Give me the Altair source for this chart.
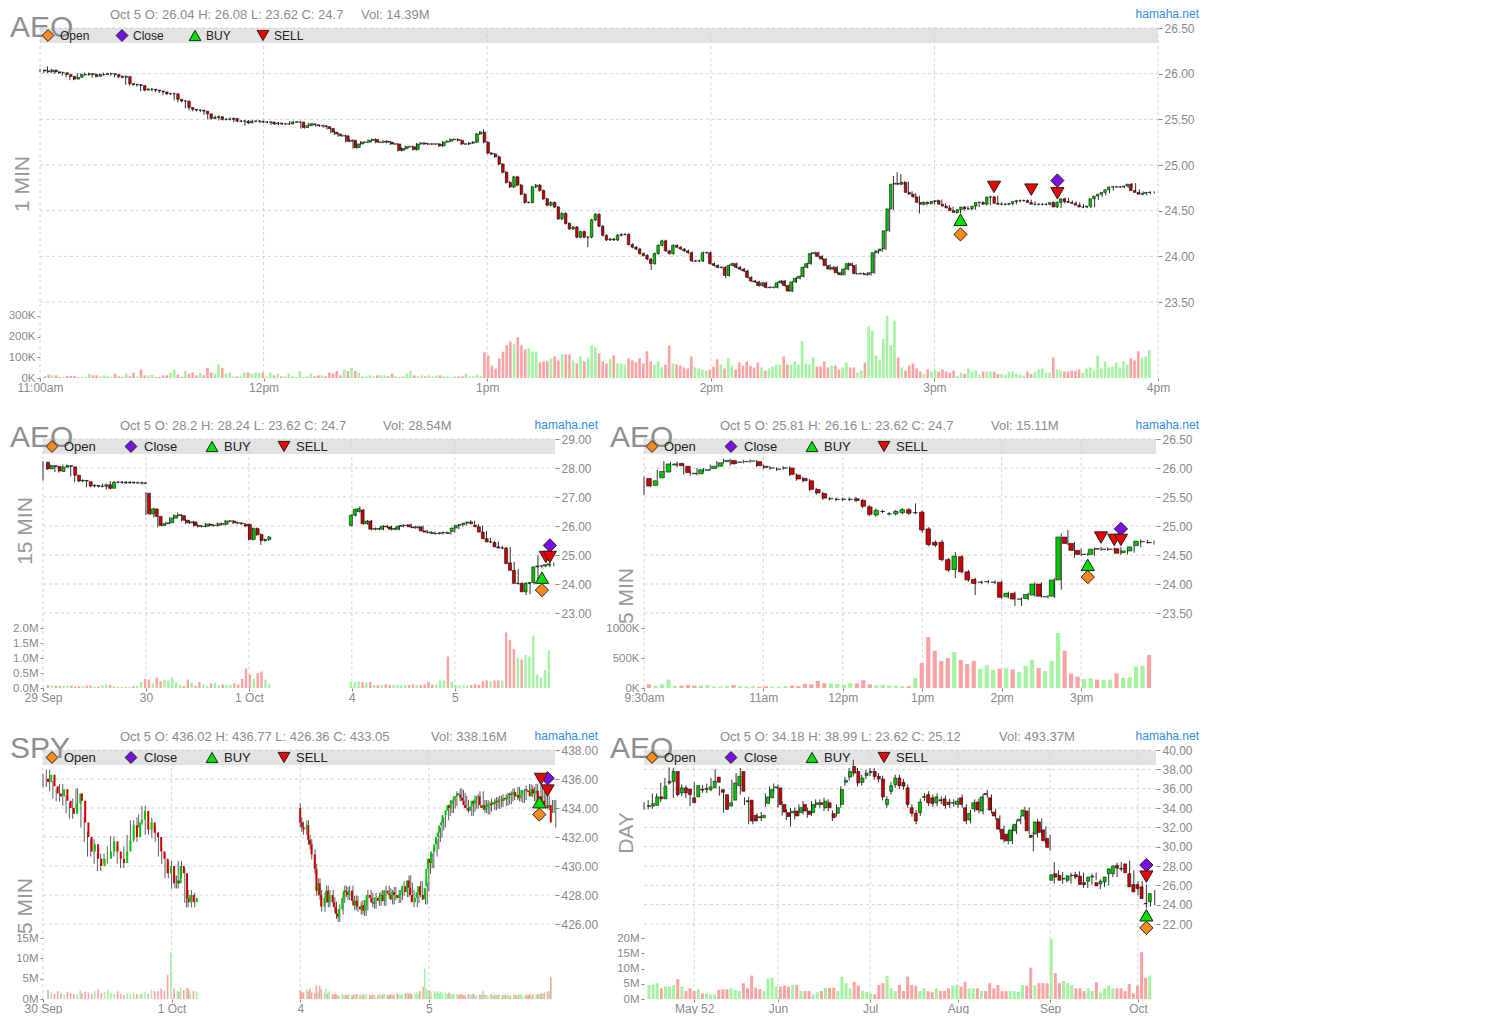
import altair as alt
import pandas as pd

FONT = "Liberation Sans"
AX = "#8a8a8a"
GRID = "#d4d4d4"
UP, DN = "#00c800", "#cc0000"
VUP, VDN = "#a4f3a0", "#fca2a2"
ORANGE, PURPLE, BUYC, SELLC = "#ff8a1c", "#7a10e0", "#00e000", "#f00000"
ONE = pd.DataFrame({"a": [0]})

# ================= P1 : AEO 1 MIN (Oct 5, 11:00-16:00) =================
p1_first_open = 26.04
p1_close = [
 26.03,26.02,26.04,26.02,26.01,26.01,25.99,25.97,25.94,25.96,
 25.99,25.99,26.00,25.99,25.97,25.99,25.99,26.00,26.00,25.99,
 25.97,25.96,25.97,25.89,25.88,25.88,25.87,25.82,25.83,25.83,
 25.82,25.81,25.80,25.78,25.78,25.78,25.72,25.70,25.70,25.63,
 25.61,25.60,25.60,25.59,25.56,25.51,25.52,25.53,25.50,25.50,
 25.50,25.51,25.48,25.48,25.48,25.46,25.48,25.48,25.48,25.47,
 25.47,25.47,25.45,25.46,25.45,25.45,25.45,25.47,25.47,25.47,
 25.41,25.43,25.45,25.44,25.43,25.43,25.42,25.40,25.36,25.34,
 25.32,25.32,25.26,25.27,25.19,25.23,25.25,25.25,25.27,25.28,
 25.25,25.25,25.26,25.25,25.23,25.23,25.16,25.18,25.20,25.20,
 25.17,25.23,25.24,25.23,25.23,25.23,25.23,25.21,25.25,25.26,
 25.28,25.28,25.27,25.23,25.23,25.24,25.25,25.34,25.36,25.25,
 25.13,25.12,25.09,25.01,24.92,24.81,24.76,24.87,24.78,24.68,
 24.59,24.59,24.76,24.78,24.72,24.63,24.56,24.59,24.54,24.41,
 24.47,24.36,24.30,24.32,24.21,24.27,24.21,24.21,24.40,24.46,
 24.33,24.23,24.18,24.19,24.18,
 24.23,24.24,24.24,24.13,24.10,24.08,24.03,24.01,23.97,23.92,
 24.03,24.12,24.17,24.06,24.03,24.12,24.10,24.08,24.06,24.04,
 23.95,23.95,23.95,24.04,24.04,23.92,23.90,23.88,23.88,23.79,
 23.90,23.92,23.88,23.86,23.84,23.77,23.73,23.72,23.68,23.71,
 23.66,23.66,23.66,23.71,23.73,23.68,23.62,23.72,23.76,23.78,
 23.88,23.92,24.03,24.04,24.00,23.97,23.90,23.86,23.88,23.82,
 23.80,23.86,23.92,23.90,23.81,23.81,23.81,23.80,23.82,24.04,
 24.06,24.08,24.28,24.52,24.79,24.80,24.79,24.81,24.70,24.68,
 24.65,24.59,24.57,24.59,24.58,24.60,24.61,24.57,24.55,24.53,
 24.50,24.48,24.51,24.54,24.52,24.52,24.55,24.59,24.59,24.57,
 24.65,24.65,24.58,24.57,24.57,24.57,24.58,24.60,24.61,24.61,
 24.61,24.59,24.57,24.57,24.57,24.57,24.57,24.59,24.54,24.59,
 24.63,24.60,24.59,24.58,24.56,24.54,24.54,24.55,24.63,24.66,
 24.68,24.70,24.73,24.76,24.76,24.76,24.76,24.77,24.79,24.72,
 24.70,24.68,24.69,24.70,24.70]
p1_hi = {2: 26.08, 119: 25.39, 229: 24.88, 230: 24.92, 231: 24.90, 233: 24.82}
p1_lo = {55: 25.43, 147: 24.10, 164: 23.85, 184: 23.76, 201: 23.61, 236: 24.47}
p1_vol_k = [
 8,16,13,13,5,5,10,10,10,5, 5,5,21,13,13,8,13,8,5,21, 8,5,21,8,26,8,41,13,13,16,
 5,5,13,13,26,41,16,5,33,21, 26,13,26,13,49,26,21,65,49,21, 26,8,8,8,26,26,21,26,26,26,
 8,26,13,21,8,8,21,8,5,33, 5,8,21,8,13,13,8,26,21,33, 13,41,33,49,33,26,8,8,13,8,
 13,13,13,8,21,8,5,8,21,33, 13,8,13,8,13,8,13,13,8,8, 5,8,8,8,21,8,8,16,10, 124,
 109,60,45,94,127,158,176,163,197,158, 138,143,128,128,75,80,80,94,104,85,
 114,114,114,85,70,104,80,99,158,
 150,119,80,70,90,109,70,70,65,95, 85,75,95,70,129,80,65,80,51,65,
 158,70,65,60,51,46,104,51, 46,41,36,41,55,90,65,46,95,60,
 41,75,60,80,60,51,75,51,36,46, 55,65,65,104,65,65,80,65,178,70,
 65,99,55,55,80,51,60,60,41,51, 75,51,51,26,36,75,248,228,109,85,
 189,302,160,277,99,51,36,60,70,46, 31,20,41,31,41,31,41,31,26,36,
 11,26,20,46,31,36,16,31,31,31, 31,20,20,16,31,31,20,16,11,31,
 20,31,41,46,26,26,99,41,36,31, 31,36,36,41,26,46,51,36,109,46,
 80,51,55,75,51,80,65,95,85,129, 99,104,135]
p1_marks = [(247, 24.24, "open"), (247, 24.40, "buy"), (256, 24.76, "sell"),
            (266, 24.73, "sell"), (273, 24.69, "sell"), (273, 24.83, "close")]

# ================= P2 : AEO 15 MIN (Sep 29 - Oct 5) =================
p2_sessions = [0, 26, 52, 78, 104]          # first 15-min slot of each session
p2_open = [
 [28.20,27.97,28.08,28.05,27.88,28.03,28.08,28.04,27.75,27.55,27.57,27.53,27.38,27.40,27.37,27.37,27.42,27.30,27.51,27.51,27.51,27.49,27.51,27.49,27.49,27.49],
 [27.13,26.42,26.59,26.33,26.02,26.08,26.11,26.27,26.36,26.36,26.20,26.11,26.14,26.02,25.99,25.99,26.06,26.02,26.02,26.08,26.06,26.17,26.17,26.11,26.10,26.06],
 [26.05,25.54,25.91,25.70,25.50,25.53],
 [26.02,26.37,26.50,26.55,26.08,26.17,25.89,25.91,25.89,25.99,25.97,25.89,25.89,25.99,26.02,26.04,25.97,25.94,25.97,25.83,25.79,25.77,25.74,25.74,25.77,25.77],
 [25.81,25.93,26.02,26.05,26.10,26.14,26.03,25.97,25.79,25.56,25.45,25.43,25.28,25.24,25.24,24.73,24.47,24.02,24.02,23.73,24.02,24.05,24.59,24.62,24.62,24.65]]
p2_close = [
 [27.97,28.08,28.05,27.90,28.03,28.08,28.06,27.75,27.55,27.57,27.55,27.38,27.40,27.37,27.37,27.42,27.30,27.51,27.51,27.51,27.49,27.51,27.49,27.49,27.49,27.47],
 [26.42,26.59,26.33,26.02,26.08,26.11,26.27,26.36,26.39,26.20,26.11,26.14,26.02,25.99,25.99,26.06,26.02,26.02,26.08,26.06,26.17,26.17,26.11,26.10,26.08,26.00],
 [25.54,25.91,25.70,25.50,25.53,25.62],
 [26.37,26.57,26.60,26.08,26.17,25.89,25.91,25.89,25.99,25.97,25.89,25.91,25.99,26.02,26.02,25.97,25.94,25.97,25.83,25.79,25.77,25.74,25.74,25.77,25.77,25.74],
 [25.93,26.02,26.05,26.10,26.14,26.08,25.97,25.79,25.56,25.45,25.45,25.28,25.24,25.24,24.70,24.47,24.02,24.02,23.73,24.02,24.05,24.59,24.62,24.62,24.67,24.70]]
p2_vol_m = [
 [0.10,0.08,0.08,0.07,0.08,0.08,0.08,0.05,0.06,0.06,0.08,0.08,0.05,0.05,0.10,0.12,0.10,0.06,0.04,0.04,0.03,0.04,0.06,0.08,0.20,0.30],
 [0.28,0.15,0.35,0.22,0.28,0.25,0.35,0.18,0.10,0.07,0.28,0.18,0.08,0.20,0.12,0.08,0.15,0.18,0.10,0.12,0.10,0.10,0.15,0.12,0.30,0.65],
 [0.45,0.30,0.50,0.55,0.28,0.12],
 [0.20,0.20,0.22,0.20,0.18,0.20,0.10,0.10,0.10,0.12,0.10,0.10,0.10,0.10,0.10,0.10,0.12,0.10,0.10,0.12,0.20,0.12,0.12,0.25,0.25,1.05],
 [0.20,0.10,0.08,0.08,0.08,0.10,0.12,0.10,0.22,0.25,0.22,0.25,0.25,0.25,1.85,1.60,1.30,1.00,0.95,1.10,1.05,1.75,0.45,0.35,0.60,1.25]]
p2_hi = {0: 28.24, 5: 28.12, 34: 26.47, 80: 26.67, 108: 26.20, 125: 24.99}   # keyed by 15-min slot
p2_lo = {0: 27.57, 29: 25.95, 55: 25.35, 121: 23.79, 122: 23.62, 123: 23.65}
p2_marks = [(126, 23.79, "open"), (126, 24.22, "buy"), (127, 24.93, "sell"),
            (128, 24.93, "sell"), (128, 25.33, "close")]

# ================= P3 : AEO 5 MIN (Oct 5) =================
p3_open = [25.82,25.70,25.83,25.93,26.05,26.08,26.03,25.91,25.90,25.96,25.99,26.03,26.11,26.13,26.10,26.11,26.12,26.11,26.03,26.00,
           25.98,26.00,26.00,25.88,25.82,25.78,25.63,25.56,25.47,25.46,25.46,25.46,25.47,25.44,25.33,25.19,25.25,25.21,25.21,25.23,
           25.28,25.23,25.24,24.95,24.72,24.72,24.42,24.25,24.47,24.21,24.08,24.03,24.04,24.03,24.03,23.78,23.84,23.74,23.75,23.81,
           24.00,23.78,23.79,24.07,24.81,24.70,24.58,24.51,24.51,24.61,24.60,24.60,24.61,24.54,24.57,24.66,24.73,24.72]
p3_close = [25.69,25.78,25.94,26.07,26.07,26.04,25.92,25.90,25.97,25.97,26.03,26.09,26.13,26.07,26.10,26.11,26.12,26.04,26.01,26.00,
            25.98,26.00,25.89,25.81,25.78,25.63,25.57,25.48,25.47,25.46,25.46,25.46,25.44,25.34,25.20,25.27,25.25,25.21,25.25,25.28,
            25.22,25.23,24.93,24.68,24.67,24.42,24.24,24.48,24.21,24.07,24.01,24.03,24.04,24.03,23.77,23.84,23.74,23.74,23.82,24.00,
            23.79,23.78,24.07,24.81,24.70,24.58,24.51,24.51,24.60,24.60,24.60,24.60,24.53,24.57,24.64,24.74,24.73,24.71]
p3_vol_k = [60,35,60,140,35,40,50,40,40,50,25,25,35,50,30,25,30,20,30,20,
            20,30,40,30,70,60,120,80,75,65,55,80,75,130,60,45,50,40,40,30,
            30,165,420,850,620,450,500,600,470,400,450,320,380,300,320,330,310,270,370,470,
            330,280,450,920,620,240,190,150,160,140,130,140,240,170,180,360,370,550]
p3_hi = {0: 25.85, 3: 26.12, 12: 26.16, 41: 25.39, 45: 24.76, 47: 24.55, 63: 24.87, 64: 24.93}
p3_lo = {0: 25.54, 42: 24.88, 47: 24.10, 50: 23.81, 54: 23.74, 56: 23.62, 57: 23.62, 63: 23.90, 65: 24.45}
p3_marks = [(67, 24.12, "open"), (67, 24.33, "buy"), (69, 24.80, "sell"),
            (71, 24.76, "sell"), (72, 24.76, "sell"), (72, 24.95, "close")]

# ================= P4 : SPY 5 MIN (Sep 30 - Oct 5) =================
p4_sessions = [0, 78, 156, 234]
p4_close = [
 [435.8,436.3,435.5,435.0,434.8,435.3,434.5,434.0,433.6,434.3,435.0,434.5,433.0,432.0,431.0,431.5,430.5,430.0,430.5,430.5,
  431.0,431.7,431.0,430.5,430.2,431.0,431.8,432.8,432.0,433.0,433.2,433.8,432.5,433.0,432.3,432.0,431.0,430.5,429.5,430.0],
 [428.8,429.0,428.8,430.0,429.5,427.8,427.5,428.0,427.5,427.8],
 [433.0,432.7,432.5,432.8,431.8,431.5,430.8,429.8,428.3,428.8,428.0,427.2,427.8,428.3,427.5,428.0,427.5,427.2,426.7,426.5,
  427.0,427.8,428.3,428.2,428.0,428.3,427.6,427.3,427.6,427.2,427.0,427.3,426.9,427.3,428.0,427.8,427.5,427.4,427.8,427.6,
  427.9,428.0,427.6,428.3,428.1,428.0,427.7,428.2,428.0,427.8,428.0,428.3,428.6,428.2,429.0,428.5,428.0,427.5,427.8,428.2,
  428.6,428.0,427.7,428.5],
 [429.8,430.5,430.2,431.0,431.5,432.0,432.3,432.8,433.0,433.5,433.8,434.2,434.0,434.3,434.5,434.8,435.0,434.9,434.7,434.5,
  434.2,434.0,433.8,434.1,434.5,434.3,434.6,434.8,434.2,434.0,434.2,433.9,434.1,434.3,434.2,434.4,434.3,434.5,434.4,434.6,
  434.5,434.7,434.6,434.8,435.0,434.9,435.1,434.8,434.9,434.7,434.9,435.2,435.3,435.2,435.1,434.8,435.3,435.0,435.2,434.5,
  434.8,434.3,434.5,434.2,434.0,434.2,433.0]]
p4_vol_m = [
 [2.2,1.6,1.3,2.0,1.4,1.1,1.8,1.5,1.2,1.0, 2.2,1.4,1.8,1.6,1.2,1.9,2.4,1.5,1.8,2.2,
  1.5,1.3,1.9,1.2,1.0,1.4,1.1,1.6,1.3,1.2, 1.5,1.8,1.4,2.2,1.9,2.0,2.6,2.0,6.0,11.5],
 [2.6,2.0,1.8,2.8,2.2,2.8,2.4,1.5,2.0,1.8],
 [2.2,1.8,1.6,2.4,1.9,2.6,1.6,1.4,3.3,1.8, 3.2,2.4,1.6,2.6,1.4,1.9,1.2,1.1,1.3,0.9,
  1.0,1.2,0.9,1.1,1.0,1.3,0.9,1.0,1.1,1.2, 0.9,1.0,1.1,0.9,1.2,1.0,0.9,1.1,1.0,0.9,
  1.2,1.0,1.1,1.3,1.0,0.9,1.2,1.1,1.0,1.3, 1.1,1.0,1.2,1.4,1.6,1.2,1.5,1.1,1.3,1.8,
  1.4,2.0,3.0,7.5],
 [2.6,2.0,2.2,1.6,1.9,1.6,2.0,1.4,1.8,1.3, 1.5,1.2,1.6,1.4,1.1,1.3,1.2,1.0,1.2,1.1,
  1.0,0.9,1.2,1.0,1.1,1.3,1.0,0.9,1.1,1.0, 2.0,1.1,1.0,0.9,1.2,1.0,0.9,1.1,1.0,1.2,
  0.9,1.0,1.1,0.9,1.0,0.8,1.0,1.1,0.9,1.0, 1.2,1.0,0.9,1.1,1.0,1.2,0.9,1.1,1.0,1.3,
  1.2,1.4,1.3,1.6,1.8,2.0,5.5]]
p4_first_open = [436.02, 430.0, 434.0, 428.6]
p4_span = [78, 15, 78, 78]                  # 5-min slots covered by each session's readings
p4_marks = [(301, 433.55, "open"), (301, 434.40, "buy"), (302, 436.0, "sell"),
            (306, 435.2, "sell"), (306, 436.05, "close")]

# ================= P5 : AEO DAY =================
p5_open = [34.15,34.20,34.27,35.15,34.95,36.59,36.76,37.78,35.56,36.08,35.97,35.05,35.15,35.95,35.92,35.90,36.08,37.20,35.90,35.39,
           34.20,34.81,36.31,37.78,34.75,34.81,33.24,33.10,33.00,34.47,35.05,36.08,36.08,34.37,33.52,33.50,33.69,33.52,34.37,33.69,
           33.52,34.37,34.54,34.03,34.54,33.41,33.45,34.37,36.66,37.20,38.29,37.78,36.66,37.34,37.68,37.78,37.27,37.00,34.37,35.73,
           36.42,37.10,36.66,36.08,34.03,33.45,33.52,35.10,35.39,35.05,34.54,34.85,34.95,34.61,34.50,34.37,35.05,34.03,32.76,33.92,
           34.61,33.69,35.49,35.05,33.58,32.90,31.81,31.30,30.61,31.64,32.66,33.17,33.69,31.19,31.30,32.56,31.74,30.85,26.52,27.20,
           27.03,26.65,26.52,27.00,27.10,26.96,26.28,26.42,26.86,26.28,26.18,26.35,27.20,27.20,28.05,27.75,28.22,27.20,26.08,26.08,
           25.84,24.13,24.30]
p5_close = [34.25,34.45,35.15,34.95,36.25,36.76,37.78,35.39,36.08,35.56,35.39,34.54,36.31,35.85,36.02,36.18,36.76,36.66,35.63,33.86,
            34.54,36.59,37.27,35.73,34.65,32.66,32.66,33.00,33.24,35.15,35.90,36.18,34.37,33.58,33.11,33.65,33.17,34.03,33.69,33.34,
            34.37,34.54,34.37,34.71,34.03,33.00,34.03,35.90,36.86,37.78,37.61,36.59,37.10,37.61,37.78,37.27,37.00,35.15,34.88,36.31,
            37.10,36.31,36.25,34.37,33.45,32.66,34.61,35.20,34.54,34.47,35.15,34.75,34.27,34.37,34.55,34.71,34.37,32.66,33.45,34.54,
            33.79,35.15,35.39,33.79,33.17,31.81,30.78,30.61,31.74,32.32,32.83,33.79,31.64,30.96,32.56,31.47,30.61,29.93,27.10,26.86,
            26.52,26.72,26.96,27.05,26.86,26.08,26.08,26.86,26.96,25.94,26.42,26.86,27.71,27.99,27.78,27.68,27.30,25.84,25.32,25.67,
            24.64,24.10,25.15]
p5_vol_m = [4.6,4.8,5.2,3.5,4.1,4.1,4.6,6.5,4.1,2.6, 3.5,2.6,3.2,1.9,1.9,1.5,1.5,3.0,3.2,3.2,
            3.5,3.0,2.6,5.2,3.5,7.7,3.7,3.3,2.6,6.8, 7.0,4.1,4.1,4.4,4.1,4.6,4.6,2.6,2.6,2.6,
            1.5,2.2,2.6,3.7,3.7,3.7,2.6,7.4,5.2,3.5, 5.7,4.4,2.6,2.4,1.9,1.5,4.6,5.2,7.6,3.5,
            2.6,4.6,2.6,7.4,4.6,4.3,2.6,3.5,2.6,2.2, 3.5,2.6,2.6,3.5,4.4,4.6,4.1,5.7,3.5,3.5,
            3.5,2.6,2.6,5.2,3.5,4.6,2.6,2.6,2.6,2.6, 2.4,4.6,4.4,10.3,4.6,5.2,5.2,5.2,19.8,8.5,
            5.2,5.9,5.2,4.6,3.5,3.5,2.6,3.5,2.6,5.5, 2.2,3.5,4.4,3.5,3.5,3.5,2.6,4.9,1.9,4.4,
            15.4,7.0,7.7]
p5_hi = {6: 38.20, 17: 38.00, 50: 38.99, 98: 28.40, 120: 26.10}
p5_lo = {35: 32.08, 93: 29.50, 120: 23.62, 121: 23.80}
p5_marks = [(120, 21.60, "open"), (120, 22.90, "buy"), (120, 26.90, "sell"), (120, 28.10, "close")]


# ---------------------------------------------------------------------------
def frame(idx, o, c, v, wick, hi_over, lo_over):
    rows = []
    for i, a, b, vv in zip(idx, o, c, v):
        h = hi_over.get(i, max(a, b) + wick)
        l = lo_over.get(i, min(a, b) - wick)
        rows.append(dict(i=i, o=a, c=b, h=h, l=l, v=vv, z=0))
    return pd.DataFrame(rows)


def label_expr(vals, labs):
    e = "''"
    for v, l in reversed(list(zip(vals, labs))):
        e = f"datum.value == {v} ? '{l}' : ({e})"
    return e


MARK_STYLE = {"open": ("diamond", ORANGE), "close": ("diamond", PURPLE),
              "buy": ("triangle-up", BUYC), "sell": ("triangle-down", SELLC)}

TOTAL_W = 1118
TOTAL_H = 971


def panel(p, x0, y0, W, PH, gap, VH):
    H = PH + gap + VH
    x1 = x0 + W
    yb = y0 + H
    sx = alt.Scale(domain=p["xdom"], range=[x0, x1], nice=False, zero=False)
    sy = alt.Scale(domain=p["pdom"], range=[y0 + PH, y0], nice=False, zero=False)
    sv = alt.Scale(domain=p["vdom"], range=[yb, yb - VH], nice=False, zero=False)
    df = p["df"]
    L = []
    L.append(alt.Chart(ONE).mark_rect(color="#e3e3e3").encode(
        x=alt.value(x0), x2=alt.value(x1), y=alt.value(y0), y2=alt.value(y0 + 15)))
    paxis = alt.Axis(orient="right", offset=x1 - TOTAL_W, values=p["pticks"], format=".2f",
                     domain=False, grid=False, tickSize=4, tickColor=AX, labelColor=AX,
                     labelFont=FONT, labelFontSize=12, labelPadding=2, labelOverlap=False, title=None)
    L.append(alt.Chart(pd.DataFrame({"p": p["pticks"]})).mark_rule(
        color=GRID, strokeDash=[3, 3], strokeWidth=1).encode(
        y=alt.Y("p:Q", scale=sy, axis=paxis), x=alt.value(x0), x2=alt.value(x1)))
    xaxis = alt.Axis(orient="bottom", offset=yb - TOTAL_H, values=p["xticks"],
                     labelExpr=label_expr(p["xticks"], p["xlabels"]),
                     domain=False, grid=False, tickSize=3, tickColor=AX, labelColor=AX,
                     labelFont=FONT, labelFontSize=12, labelPadding=1, labelFlush=False,
                     labelOverlap=False, title=None)
    L.append(alt.Chart(pd.DataFrame({"t": p["xticks"]})).mark_rule(
        color=GRID, strokeDash=[3, 3], strokeWidth=1).encode(
        x=alt.X("t:Q", scale=sx, axis=xaxis), y=alt.value(y0), y2=alt.value(yb)))
    L.append(alt.Chart(ONE).mark_text(text=p["ticker"], font=FONT, fontSize=30, color="#8f8f8f",
                                      align="left", baseline="alphabetic").encode(
        x=alt.value(x0 + p["tick_dx"]), y=alt.value(y0 + p["tick_y"])))
    L.append(alt.Chart(ONE).mark_text(text=p["period"], font=FONT, fontSize=21, color="#9a9a9a",
                                      angle=270, align="center", baseline="middle").encode(
        x=alt.value(x0 - 17), y=alt.value(y0 + p["period_y"])))
    vaxis = alt.Axis(orient="left", offset=-x0, values=p["vticks"], labelExpr=p["vexpr"],
                     domain=False, grid=False, tickSize=3, tickColor=AX, labelColor=AX,
                     labelFont=FONT, labelFontSize=11.5, labelPadding=2, labelOverlap=False, title=None)
    L.append(alt.Chart(df).mark_bar(size=p["vw"]).encode(
        x=alt.X("i:Q", scale=sx, axis=None),
        y=alt.Y("v:Q", scale=sv, axis=vaxis), y2="z:Q",
        color=alt.condition("datum.c >= datum.o", alt.value(VUP), alt.value(VDN))))
    L.append(alt.Chart(df).mark_rule(color="#333333", strokeWidth=p.get("wickw", 1)).encode(
        x=alt.X("i:Q", scale=sx, axis=None), y=alt.Y("l:Q", scale=sy, axis=None), y2="h:Q"))
    body_kw = dict(size=p["bw"])
    if p.get("outline", True):
        body_kw.update(stroke="#111111", strokeWidth=0.6)
    L.append(alt.Chart(df).mark_bar(**body_kw).encode(
        x=alt.X("i:Q", scale=sx, axis=None), y=alt.Y("o:Q", scale=sy, axis=None), y2="c:Q",
        color=alt.condition("datum.c >= datum.o", alt.value(UP), alt.value(DN))))
    for kind in ["open", "close", "buy", "sell"]:
        pts = [(i, pr) for i, pr, k in p["marks"] if k == kind]
        if not pts:
            continue
        shape, col = MARK_STYLE[kind]
        mdf = pd.DataFrame({"i": [a for a, b in pts], "pr": [b for a, b in pts]})
        L.append(alt.Chart(mdf).mark_point(shape=shape, filled=True, color=col, stroke="#222222",
                                           strokeWidth=1, size=175, opacity=1).encode(
            x=alt.X("i:Q", scale=sx, axis=None), y=alt.Y("pr:Q", scale=sy, axis=None)))
    names = ["Open", "Close", "BUY", "SELL"]
    for k, kind in enumerate(["open", "close", "buy", "sell"]):
        shape, col = MARK_STYLE[kind]
        L.append(alt.Chart(ONE).mark_point(shape=shape, filled=True, color=col, stroke="#222222",
                                           strokeWidth=1, size=140, opacity=1).encode(
            x=alt.value(x0 + p["leg_sym"][k]), y=alt.value(y0 + 7.5)))
        L.append(alt.Chart(ONE).mark_text(text=names[k], font=FONT, fontSize=p["leg_fs"], color="#222222",
                                          align="left", baseline="middle").encode(
            x=alt.value(x0 + p["leg_txt"][k]), y=alt.value(y0 + 8)))
    L.append(alt.Chart(ONE).mark_text(text=p["header"], font=FONT, fontSize=13, color="#8c8c8c",
                                      align="left", baseline="middle").encode(
        x=alt.value(x0 + p["hdr_x"][0]), y=alt.value(y0 - 13)))
    L.append(alt.Chart(ONE).mark_text(text=p["volhdr"], font=FONT, fontSize=13, color="#8c8c8c",
                                      align="left", baseline="middle").encode(
        x=alt.value(x0 + p["hdr_x"][1]), y=alt.value(y0 - 13)))
    L.append(alt.Chart(ONE).mark_text(text="hamaha.net", font=FONT, fontSize=12, color="#2b8ee6",
                                      align="right", baseline="middle").encode(
        x=alt.value(x1 + p["ham_dx"]), y=alt.value(y0 - 14)))
    return L


p1_open = [p1_first_open] + p1_close[:-1]
P1 = dict(df=frame(list(range(len(p1_close))), p1_open, p1_close, p1_vol_k, 0.012, p1_hi, p1_lo),
          xdom=[0, 300], pdom=[23.5, 26.5], pticks=[23.5, 24.0, 24.5, 25.0, 25.5, 26.0, 26.5],
          vdom=[0, 338], vticks=[0, 100, 200, 300], vexpr="datum.value + 'K'",
          xticks=[0, 60, 120, 180, 240, 300], xlabels=["11:00am", "12pm", "1pm", "2pm", "3pm", "4pm"],
          bw=2.5, vw=2.6, ticker="AEO", tick_dx=-30, tick_y=9, period="1 MIN", period_y=156,
          header="Oct 5 O: 26.04 H: 26.08 L: 23.62 C: 24.7", volhdr="Vol: 14.39M", hdr_x=(70, 321),
          ham_dx=41, leg_sym=[8, 82, 155, 223], leg_txt=[20, 93, 166, 234], leg_fs=12, marks=p1_marks)

i2, o2, c2, v2 = [], [], [], []
for s, oo, cc, vv in zip(p2_sessions, p2_open, p2_close, p2_vol_m):
    i2 += [s + k for k in range(len(cc))]
    o2 += oo; c2 += cc; v2 += vv
P2 = dict(df=frame(i2, o2, c2, v2, 0.04, p2_hi, p2_lo),
          xdom=[0, 129.3], pdom=[23, 29], pticks=[23, 24, 25, 26, 27, 28, 29],
          vdom=[0, 2.3], vticks=[0, 0.5, 1.0, 1.5, 2.0], vexpr="format(datum.value, '.1f') + 'M'",
          xticks=[0, 26, 52, 78, 104], xlabels=["29 Sep", "30", "1 Oct", "4", "5"],
          bw=3, vw=2.4, ticker="AEO", tick_dx=-33, tick_y=8, period="15 MIN", period_y=92,
          header="Oct 5 O: 28.2 H: 28.24 L: 23.62 C: 24.7", volhdr="Vol: 28.54M", hdr_x=(77, 340),
          ham_dx=43, leg_sym=[9, 88, 169, 241], leg_txt=[21, 101, 181, 253], leg_fs=13, marks=p2_marks)

P3 = dict(df=frame(list(range(len(p3_close))), p3_open, p3_close, p3_vol_k, 0.03, p3_hi, p3_lo),
          xdom=[0, 77.3], pdom=[23.5, 26.5], pticks=[23.5, 24.0, 24.5, 25.0, 25.5, 26.0, 26.5],
          vdom=[0, 1150], vticks=[0, 500, 1000], vexpr="datum.value + 'K'",
          xticks=[0, 18, 30, 42, 54, 66], xlabels=["9:30am", "11am", "12pm", "1pm", "2pm", "3pm"],
          bw=4.6, vw=4.2, ticker="AEO", tick_dx=-34, tick_y=8, period="5 MIN", period_y=157,
          header="Oct 5 O: 25.81 H: 26.16 L: 23.62 C: 24.7", volhdr="Vol: 15.11M", hdr_x=(76, 347),
          ham_dx=43, leg_sym=[8, 87, 168, 240], leg_txt=[20, 100, 180, 252], leg_fs=13, marks=p3_marks)

i4, o4, c4, v4 = [], [], [], []
for s, span, first, cc, vv in zip(p4_sessions, p4_span, p4_first_open, p4_close, p4_vol_m):
    n = len(cc)
    for k in range(n):
        i4.append(s + round(k * span / n))
        o4.append(first if k == 0 else cc[k - 1])
        c4.append(cc[k])
        v4.append(vv[k])
P4 = dict(df=frame(i4, o4, c4, v4, 0.35, {}, {}),
          xdom=[0, 310.5], pdom=[426, 438], pticks=[426, 428, 430, 432, 434, 436, 438],
          vdom=[0, 17], vticks=[0, 5, 10, 15], vexpr="datum.value + 'M'",
          xticks=[0, 78, 156, 234], xlabels=["30 Sep", "1 Oct", "4", "5"],
          bw=2.0, vw=1.6, outline=False, wickw=0.8, ticker="SPY", tick_dx=-33, tick_y=8, period="5 MIN", period_y=156,
          header="Oct 5 O: 436.02 H: 436.77 L: 426.36 C: 433.05", volhdr="Vol: 338.16M", hdr_x=(77, 388),
          ham_dx=43, leg_sym=[9, 88, 169, 241], leg_txt=[21, 101, 181, 253], leg_fs=13, marks=p4_marks)

P5 = dict(df=frame(list(range(len(p5_close))), p5_open, p5_close, p5_vol_m, 0.35, p5_hi, p5_lo),
          xdom=[0, 122.3], pdom=[22, 40], pticks=[22, 24, 26, 28, 30, 32, 34, 36, 38, 40],
          vdom=[0, 22.7], vticks=[0, 5, 10, 15, 20], vexpr="datum.value + 'M'",
          xticks=[12, 32, 54, 75, 97, 118], xlabels=["May 52", "Jun", "Jul", "Aug", "Sep", "Oct"],
          bw=3, vw=3, ticker="AEO", tick_dx=-34, tick_y=8, period="DAY", period_y=83,
          header="Oct 5 O: 34.18 H: 38.99 L: 23.62 C: 25.12", volhdr="Vol: 493.37M", hdr_x=(76, 355),
          ham_dx=43, leg_sym=[8, 87, 168, 240], leg_txt=[20, 100, 180, 252], leg_fs=13, marks=p5_marks)

layers = (panel(P1, 0, 0, 1118, 274, 6, 70)
          + panel(P2, 3, 411, 512, 174, 6, 69) + panel(P3, 604, 411, 512, 174, 6, 69)
          + panel(P4, 3, 722, 512, 174, 6, 69) + panel(P5, 604, 722, 512, 174, 6, 69))

chart = alt.layer(*layers).resolve_scale(x="independent", y="independent").properties(
    width=TOTAL_W, height=TOTAL_H, padding=0, background="white").configure_view(stroke=None)

chart.save("out.html", embed_options={"renderer": "svg", "actions": False})
